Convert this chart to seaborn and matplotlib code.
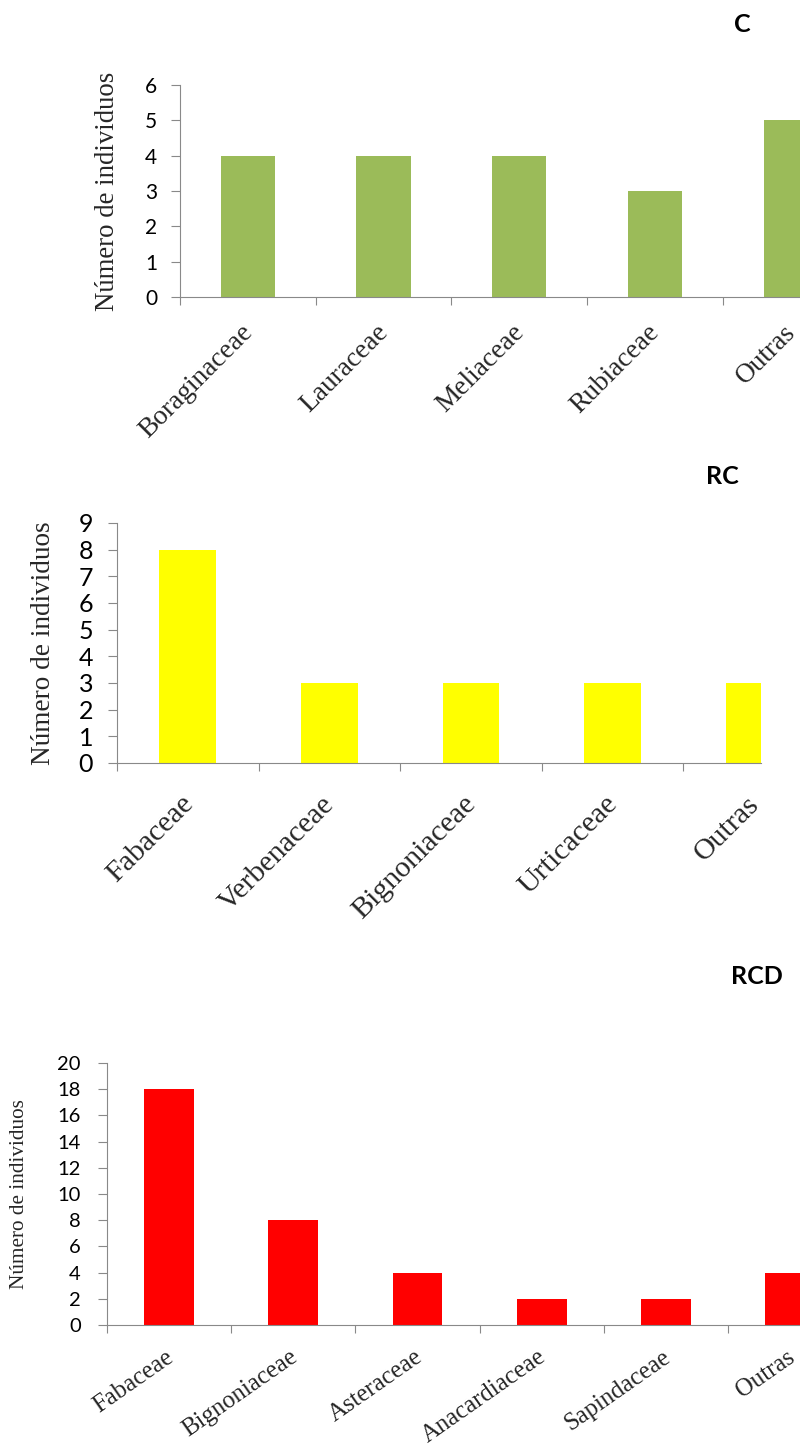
import numpy as np
import matplotlib
matplotlib.use("Agg")
import matplotlib.pyplot as plt
import matplotlib.transforms as mtransforms
import seaborn as sns

# Family counts per area
c_families = ["Boraginaceae", "Lauraceae", "Meliaceae", "Rubiaceae", "Outras"]
c_counts = [4, 4, 4, 3, 5]
c_yticks = [0, 1, 2, 3, 4, 5, 6]

rc_families = ["Fabaceae", "Verbenaceae", "Bignoniaceae", "Urticaceae", "Outras"]
rc_counts = [8, 3, 3, 3, 3]
rc_yticks = [0, 1, 2, 3, 4, 5, 6, 7, 8, 9]

rcd_families = ["Fabaceae", "Bignoniaceae", "Asteraceae", "Anacardiaceae",
                "Sapindaceae", "Outras"]
rcd_counts = [18, 8, 4, 2, 2, 4]
rcd_yticks = [0, 2, 4, 6, 8, 10, 12, 14, 16, 18, 20]

panel_titles = ["C", "RC", "RCD"]
bar_colors = ["#9BBB59", "#FFFF00", "#FF0000"]
y_title = "Número de individuos"

W, H, DPI = 800, 1450, 100
PX = 72 / DPI          # points per pixel
GRAY = "#898989"
SERIF = ["Liberation Serif", "DejaVu Serif"]

sns.set_style("ticks")
plt.rcParams["font.family"] = ["Lato", "DejaVu Sans"]

fig = plt.figure(figsize=(W / DPI, H / DPI), dpi=DPI)


def panel(families, counts, yticks, color, title, *, left, right, y0, ytop, step,
          ytick_size, ytick_pad, ylab_size, ylab_x, xlab_size, xlab_rot, xlab_pad,
          xlab_dx, title_xy):
    ax = fig.add_axes([left / W, 1 - y0 / H, (right - left) / W, (y0 - ytop) / H])
    sns.barplot(x=families, y=counts, color=color, saturation=1, width=0.4,
                errorbar=None, linewidth=0, ax=ax)
    n = len(families)

    # tick marks sit on the category boundaries, labels at the centres
    ax.set_xticks(np.arange(n + 1) - 0.5, minor=True)
    ax.set_yticks(yticks)
    ax.set_xlim(-0.5, -0.5 + (right - left) / step)
    ax.set_ylim(yticks[0], yticks[-1])

    sns.despine(ax=ax, top=True, right=True)
    for s in ("left", "bottom"):
        ax.spines[s].set_color(GRAY)
        ax.spines[s].set_linewidth(0.8)

    ax.tick_params(axis="x", which="minor", bottom=True, length=8 * PX,
                   width=0.8, color=GRAY, direction="out")
    ax.tick_params(axis="x", which="major", bottom=True, length=0,
                   pad=xlab_pad * PX)
    ax.tick_params(axis="y", which="major", left=True, length=9 * PX, width=0.8,
                   color=GRAY, direction="out", labelsize=ytick_size,
                   pad=ytick_pad * PX, labelcolor="black")

    shift = mtransforms.ScaledTranslation(xlab_dx / DPI, 0, fig.dpi_scale_trans)
    for lab in ax.get_xticklabels():
        lab.set_fontfamily(SERIF)
        lab.set_fontsize(xlab_size)
        lab.set_rotation(xlab_rot)
        lab.set_ha("right")
        lab.set_va("top")
        lab.set_rotation_mode("anchor")
        lab.set_transform(lab.get_transform() + shift)

    ax.set_xlabel("")
    ax.set_ylabel(y_title, fontfamily=SERIF, fontsize=ylab_size, va="center")
    ax.yaxis.set_label_coords((ylab_x - left) / (right - left), 0.5)

    fig.text(title_xy[0] / W, 1 - title_xy[1] / H, title, fontsize=18,
             fontweight="bold", ha="center", va="center", color="black")
    return ax


panel(c_families, c_counts, c_yticks, bar_colors[0], panel_titles[0],
      left=180, right=800, y0=297, ytop=85, step=135.7,
      ytick_size=15, ytick_pad=14, ylab_size=19.3, ylab_x=107,
      xlab_size=19.7, xlab_rot=45, xlab_pad=23, xlab_dx=-8, title_xy=(742, 24))

panel(rc_families, rc_counts, rc_yticks, bar_colors[1], panel_titles[1],
      left=117, right=761, y0=763, ytop=523, step=141.6,
      ytick_size=18, ytick_pad=15, ylab_size=19.6, ylab_x=44,
      xlab_size=21.5, xlab_rot=45, xlab_pad=28, xlab_dx=-8, title_xy=(722, 476))

panel(rcd_families, rcd_counts, rcd_yticks, bar_colors[2], panel_titles[2],
      left=107, right=800, y0=1325, ytop=1063, step=124.2,
      ytick_size=14.5, ytick_pad=17, ylab_size=15.3, ylab_x=20,
      xlab_size=17.8, xlab_rot=35, xlab_pad=21, xlab_dx=-4, title_xy=(757, 976))

fig.savefig("out.png", dpi=DPI, facecolor="white")
